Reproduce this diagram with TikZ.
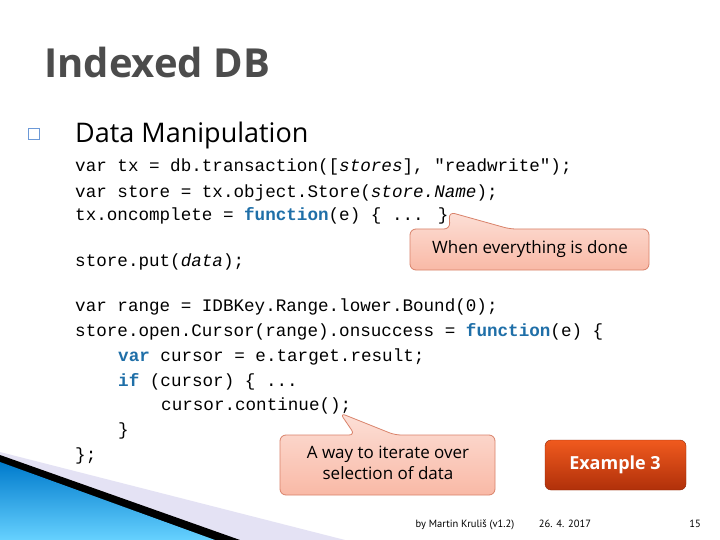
\documentclass[tikz,border=0pt]{standalone}
\usepackage{fontspec}
\setmainfont{Open Sans}
\newfontfamily\codefont{Liberation Mono}
\newfontfamily\footfont{PT Sans}
\definecolor{kw}{HTML}{1F6FA8}
\definecolor{calfill}{HTML}{F9B9A6}
\definecolor{caledge}{HTML}{D9826A}
\definecolor{exdark}{HTML}{B0300A}
\definecolor{exlight}{HTML}{F05A1E}
\newcommand{\kwd}[1]{{\color{kw}\bfseries #1}}
\begin{document}
\begin{tikzpicture}[x=1pt,y=-1pt,
  code/.style={anchor=base west,inner sep=0pt,font=\codefont\fontsize{17.6}{20}\selectfont},
  callbox/.style={draw=caledge,top color=calfill!45,bottom color=calfill,rounded corners=6pt,line width=0.8pt},
  foot/.style={anchor=base,inner sep=0pt,font=\footfont\fontsize{10.5}{12}\selectfont}]
\useasboundingbox (0,0) rectangle (720,540);
\fill[white] (0,0) rectangle (720,540);
% decoration
\fill[cyan!15!blue!10] (0,452) -- (345,540) -- (0,540) -- cycle;
\fill[black] (0,455) -- (240,540) -- (0,540) -- cycle;
\shade[bottom color=cyan!70!blue!60,top color=cyan!60!blue!80!black] (0,462) -- (215,540) -- (0,540) -- cycle;
% title
\node[anchor=base west,inner sep=0pt,font=\fontsize{40}{46}\selectfont\bfseries,text=black!70] (title) at (44,78) {Indexed DB};
\node[anchor=base west,inner sep=0pt,draw=cyan!50!blue!60,minimum size=11pt] (bul) at (28,134) {};
\node[anchor=base west,inner sep=0pt,font=\fontsize{27}{32}\selectfont] (head) at (75,143) {Data Manipulation};
% code
\node[code] (l1) at (75,172) {var tx = db.transaction([\textit{stores}], "readwrite");};
\node[code] (l2) at (75,197) {var store = tx.object.Store(\textit{store.Name});};
\node[code] (l3) at (75,221) {tx.oncomplete = \kwd{function}(e) \{ ... \}};
\node[code] (l4) at (75,266) {store.put(\textit{data});};
\node[code] (l5) at (75,311) {var range = IDBKey.Range.lower.Bound(0);};
\node[code] (l6) at (75,336) {store.open.Cursor(range).onsuccess = \kwd{function}(e) \{};
\node[code] (l7) at (118,361) {\kwd{var} cursor = e.target.result;};
\node[code] (l8) at (118,386) {\kwd{if} (cursor) \{ ...};
\node[code] (l9) at (161,410) {cursor.continue();};
\node[code] (l10) at (118,435) {\}};
\node[code] (l11) at (75,460) {\};};
% callout 1
\coordinate (t1) at (449,212);
\draw[callbox] (t1) -- (510,229) -- (649,229) -- (649,270) -- (410,270) -- (410,229) -- (450,229) -- cycle;
\node[font=\fontsize{17}{20}\selectfont] (c1) at (530,249) {When everything is done};
% callout 2
\coordinate (t2) at (340,413);
\draw[callbox] (t2) -- (395,435) -- (495,435) -- (495,495) -- (280,495) -- (280,435) -- (355,435) -- cycle;
\node[font=\fontsize{17}{21}\selectfont,align=center] (c2) at (388,463) {A way to iterate over\\selection of data};
% example
\shade[top color=exlight,bottom color=exdark,rounded corners=6pt,draw=exdark!80!black] (545,440) rectangle (686,490);
\node[font=\fontsize{18}{21}\selectfont\bfseries,text=white] (ex) at (615,465) {Example 3};
% footer
\node[foot] (f1) at (465,527) {by Martin Kruliš (v1.2)};
\node[foot] (f2) at (565,527) {26. 4. 2017};
\node[foot] (f3) at (695,527) {15};
\end{tikzpicture}
\end{document}
